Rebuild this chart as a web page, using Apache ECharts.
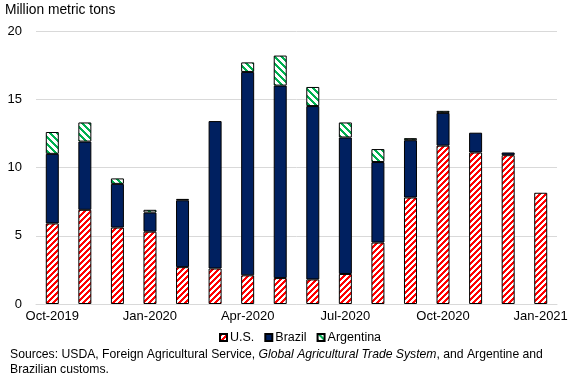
<!DOCTYPE html>
<html><head><meta charset="utf-8">
<script src="https://cdn.jsdelivr.net/npm/echarts@6/dist/echarts.min.js"></script>
<style>html,body{margin:0;padding:0;background:#fff}#c{width:578px;height:390px}</style>
</head><body><div id="c"></div>
<script>
const categories = ['Oct-2019','Nov-2019','Dec-2019','Jan-2020','Feb-2020','Mar-2020','Apr-2020','May-2020','Jun-2020','Jul-2020','Aug-2020','Sep-2020','Oct-2020','Nov-2020','Dec-2020','Jan-2021'];
const usValues        = [5.9, 6.9, 5.6, 5.3, 2.7, 2.6, 2.1, 1.9, 1.8, 2.2, 4.5, 7.8, 11.6, 11.1, 10.9, 8.15];
const brazilValues    = [5.1, 5.0, 3.2, 1.4, 4.9, 10.8, 14.9, 14.1, 12.7, 10.0, 5.9, 4.2, 2.4, 1.45, 0.2, 0];
const argentinaValues = [1.6, 1.4, 0.4, 0.2, 0.1, 0, 0.7, 2.2, 1.4, 1.1, 0.95, 0.15, 0.15, 0, 0, 0];
const yTicks = [0, 5, 10, 15, 20];

function stripe(color, dir, s, w) {
  const c = document.createElement('canvas');
  c.width = s; c.height = s;
  const g = c.getContext('2d');
  g.fillStyle = '#fff'; g.fillRect(0, 0, s, s);
  g.fillStyle = color;
  for (let y = 0; y < s; y++) {
    for (let x = 0; x < s; x++) {
      const k = dir === '/' ? (x + y) % s : ((x - y) % s + s) % s;
      if (k < w) g.fillRect(x, y, 1, 1);
    }
  }
  return { image: c, repeat: 'repeat' };
}
const nz = arr => arr.map(v => (v === 0 ? null : v));

const chart = echarts.init(document.getElementById('c'), null, { renderer: 'canvas' });
const font = 'Liberation Sans, Arial, sans-serif';
const border = { borderColor: '#000', borderWidth: 1 };
chart.setOption({
  animation: false,
  textStyle: { fontFamily: font },
  grid: { left: 36, right: 21, top: 31, bottom: 86 },
  legend: {
    left: 214, top: 326, icon: 'rect', itemWidth: 7, itemHeight: 7, itemGap: 10,
    textStyle: { fontSize: 12.5, color: '#000', fontFamily: font, padding: [0, 0, 0, -2] },
    data: ['U.S.', 'Brazil', 'Argentina']
  },
  xAxis: {
    type: 'category', data: categories,
    axisTick: { show: false },
    axisLine: { lineStyle: { color: '#d9d9d9' } },
    axisLabel: { interval: 2, color: '#000', fontSize: 13, margin: 6, fontFamily: font }
  },
  yAxis: {
    type: 'value', min: yTicks[0], max: yTicks[yTicks.length - 1], interval: 5,
    axisLabel: { color: '#000', fontSize: 13, margin: 14, fontFamily: font },
    splitLine: { lineStyle: { color: '#d9d9d9' } },
    axisLine: { show: false }, axisTick: { show: false }
  },
  graphic: [
    { type: 'text', left: 5, top: 3, style: { text: 'Million metric tons', font: '13.8px ' + font, fill: '#000' } },
    { type: 'text', left: 10, top: 347, style: {
      text: 'Sources: USDA, Foreign Agricultural Service, {i|Global Agricultural Trade System}, and Argentine and\nBrazilian customs.',
      font: '12.2px ' + font, fill: '#000', lineHeight: 15,
      rich: { i: { fontStyle: 'italic', font: 'italic 12.2px ' + font, fill: '#000', lineHeight: 15 } }
    } }
  ],
  series: [
    { name: 'U.S.', type: 'bar', stack: 't', barWidth: 13, data: nz(usValues),
      itemStyle: Object.assign({ color: stripe('#ff0000', '/', 6, 3) }, border) },
    { name: 'Brazil', type: 'bar', stack: 't', barWidth: 13, data: nz(brazilValues),
      itemStyle: Object.assign({ color: '#002060' }, border) },
    { name: 'Argentina', type: 'bar', stack: 't', barWidth: 13, data: nz(argentinaValues),
      itemStyle: Object.assign({ color: stripe('#00b050', '\\', 7, 3) }, border) }
  ]
});
</script></body></html>
